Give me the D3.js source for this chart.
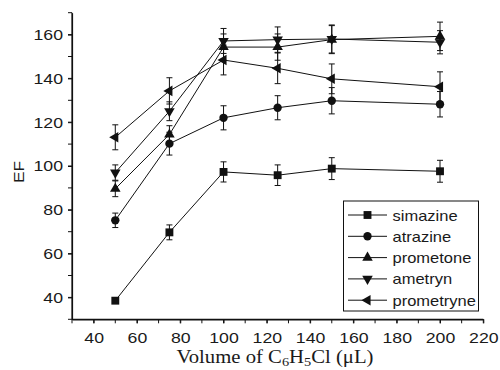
<!DOCTYPE html>
<html><head><meta charset="utf-8">
<script src="https://cdn.jsdelivr.net/npm/d3@7"></script>
<style>body{margin:0;background:#fff}svg{display:block}</style>
</head><body>
<svg id="c" width="500" height="370"></svg>
<script>
const volumes = [50, 75, 100, 125, 150, 200];
const seriesNames = ["simazine", "atrazine", "prometone", "ametryn", "prometryne"];
const simazine = [38.5, 69.7, 97.3, 95.8, 98.8, 97.6];
const simazineErr = [1.0, 3.4, 4.6, 4.7, 5.0, 5.0];
const atrazine = [75.2, 110.2, 122.0, 126.6, 129.8, 128.2];
const atrazineErr = [3.3, 5.2, 5.5, 5.5, 6.0, 5.8];
const prometone = [89.6, 114.4, 154.3, 154.3, 157.7, 159.2];
const prometoneErr = [3.6, 4.0, 6.0, 6.0, 6.4, 6.5];
const ametryn = [97.0, 125.0, 157.1, 157.7, 158.0, 156.5];
const ametrynErr = [3.5, 4.3, 5.7, 5.8, 6.4, 5.3];
const prometryne = [113.1, 134.3, 148.4, 144.6, 139.8, 136.2];
const prometryneErr = [5.7, 6.0, 6.8, 7.0, 6.8, 6.8];
const xTicks = [40, 60, 80, 100, 120, 140, 160, 180, 200, 220];
const yTicks = [40, 60, 80, 100, 120, 140, 160];

const series = [
  {name: seriesNames[0], v: simazine, e: simazineErr, sym: d3.symbolSquare, size: 62, rot: 0},
  {name: seriesNames[1], v: atrazine, e: atrazineErr, sym: d3.symbolCircle, size: 55, rot: 0},
  {name: seriesNames[2], v: prometone, e: prometoneErr, sym: d3.symbolTriangle, size: 48, rot: 0},
  {name: seriesNames[3], v: ametryn, e: ametrynErr, sym: d3.symbolTriangle, size: 48, rot: 180},
  {name: seriesNames[4], v: prometryne, e: prometryneErr, sym: d3.symbolTriangle, size: 48, rot: -90}
];

const svg = d3.select("#c");
const x = d3.scaleLinear().domain([30, 220]).range([72, 483.3]);
const y = d3.scaleLinear().domain([30, 170]).range([319.3, 12.7]);
const ink = "#111";
const SANS = "'Liberation Sans', Arial, sans-serif";

function stretch(sel, f) {
  sel.each(function() {
    const w = this.getComputedTextLength();
    if (w > 0) { this.setAttribute("textLength", w * f); this.setAttribute("lengthAdjust", "spacingAndGlyphs"); }
  });
}

// minor ticks
const xMinor = d3.range(30, 221, 10);
const yMinor = d3.range(30, 171, 10);
svg.append("g").selectAll("line").data(xMinor).join("line")
  .attr("x1", d => x(d)).attr("x2", d => x(d)).attr("y1", y(30)).attr("y2", y(30) + 4)
  .attr("stroke", ink).attr("stroke-width", 1);
svg.append("g").selectAll("line").data(yMinor).join("line")
  .attr("y1", d => y(d)).attr("y2", d => y(d)).attr("x1", x(30)).attr("x2", x(30) - 4)
  .attr("stroke", ink).attr("stroke-width", 1);

const xAxis = svg.append("g").attr("transform", `translate(0,${y(30)})`)
  .call(d3.axisBottom(x).tickValues(xTicks).tickSize(4).tickPadding(9).tickSizeOuter(0));
const yAxis = svg.append("g").attr("transform", `translate(${x(30)},0)`)
  .call(d3.axisLeft(y).tickValues(yTicks).tickSize(4).tickPadding(5).tickSizeOuter(0));
[xAxis, yAxis].forEach(a => {
  a.select(".domain").attr("stroke", ink).attr("stroke-width", 1.2);
  a.selectAll(".tick line").attr("stroke", ink);
  a.selectAll("text").attr("font-family", SANS).attr("font-size", 15).attr("fill", "#1a1a1a");
  stretch(a.selectAll("text"), 1.18);
});
svg.append("line").attr("x1", x(30)).attr("x2", x(220)).attr("y1", y(30)).attr("y2", y(30)).attr("stroke", ink).attr("stroke-width", 1.2);
svg.append("line").attr("x1", x(30)).attr("x2", x(30)).attr("y1", y(30)).attr("y2", y(170)).attr("stroke", ink).attr("stroke-width", 1.2);

// axis titles
const yt = svg.append("text").attr("transform", `translate(24,${(y(30)+y(170))/2 + 6}) rotate(-90)`)
  .attr("text-anchor", "middle").attr("font-family", SANS).attr("font-size", 15).attr("fill", "#1a1a1a").text("EF");
stretch(yt, 1.15);

const xt = svg.append("text").attr("x", 275).attr("y", 363).attr("text-anchor", "middle")
  .attr("font-family", "'Liberation Serif', 'Times New Roman', serif").attr("font-size", 18).attr("fill", "#1a1a1a");
xt.append("tspan").text("Volume of C");
xt.append("tspan").attr("font-size", 12.5).attr("dy", 3).text("6");
xt.append("tspan").attr("dy", -3).text("H");
xt.append("tspan").attr("font-size", 12.5).attr("dy", 3).text("5");
xt.append("tspan").attr("dy", -3).text("Cl (\u03bcL)");
stretch(xt, 1.15);

// series
const line = d3.line().x((d, i) => x(volumes[i])).y(d => y(d));
series.forEach(s => {
  const g = svg.append("g");
  g.append("path").attr("d", line(s.v)).attr("fill", "none").attr("stroke", ink).attr("stroke-width", 1);
  const eb = g.selectAll("g.eb").data(s.v).join("g");
  eb.append("line").attr("x1", (d, i) => x(volumes[i])).attr("x2", (d, i) => x(volumes[i]))
    .attr("y1", (d, i) => y(d - s.e[i])).attr("y2", (d, i) => y(d + s.e[i])).attr("stroke", ink).attr("stroke-width", 1);
  [-1, 1].forEach(sg => {
    eb.append("line").attr("x1", (d, i) => x(volumes[i]) - 3).attr("x2", (d, i) => x(volumes[i]) + 3)
      .attr("y1", (d, i) => y(d + sg * s.e[i])).attr("y2", (d, i) => y(d + sg * s.e[i]))
      .attr("stroke", ink).attr("stroke-width", 1);
  });
  g.selectAll("path.m").data(s.v).join("path").attr("class", "m")
    .attr("d", d3.symbol().type(s.sym).size(s.size))
    .attr("transform", (d, i) => `translate(${x(volumes[i])},${y(d)}) rotate(${s.rot})`)
    .attr("fill", ink);
});

// legend
const lg = svg.append("g");
lg.append("rect").attr("x", 343.5).attr("y", 201).attr("width", 135).attr("height", 110)
  .attr("fill", "#fff").attr("stroke", ink).attr("stroke-width", 1);
series.forEach((s, k) => {
  const yy = 215 + k * 21.3;
  lg.append("line").attr("x1", 348).attr("x2", 387).attr("y1", yy).attr("y2", yy).attr("stroke", ink).attr("stroke-width", 1);
  lg.append("path").attr("d", d3.symbol().type(s.sym).size(s.size))
    .attr("transform", `translate(367.5,${yy}) rotate(${s.rot})`).attr("fill", ink);
  const t = lg.append("text").attr("x", 392.5).attr("y", yy + 5.5).attr("font-family", SANS)
    .attr("font-size", 15).attr("fill", "#1a1a1a").text(s.name);
  stretch(t, 1.1);
});
</script>
</body></html>
